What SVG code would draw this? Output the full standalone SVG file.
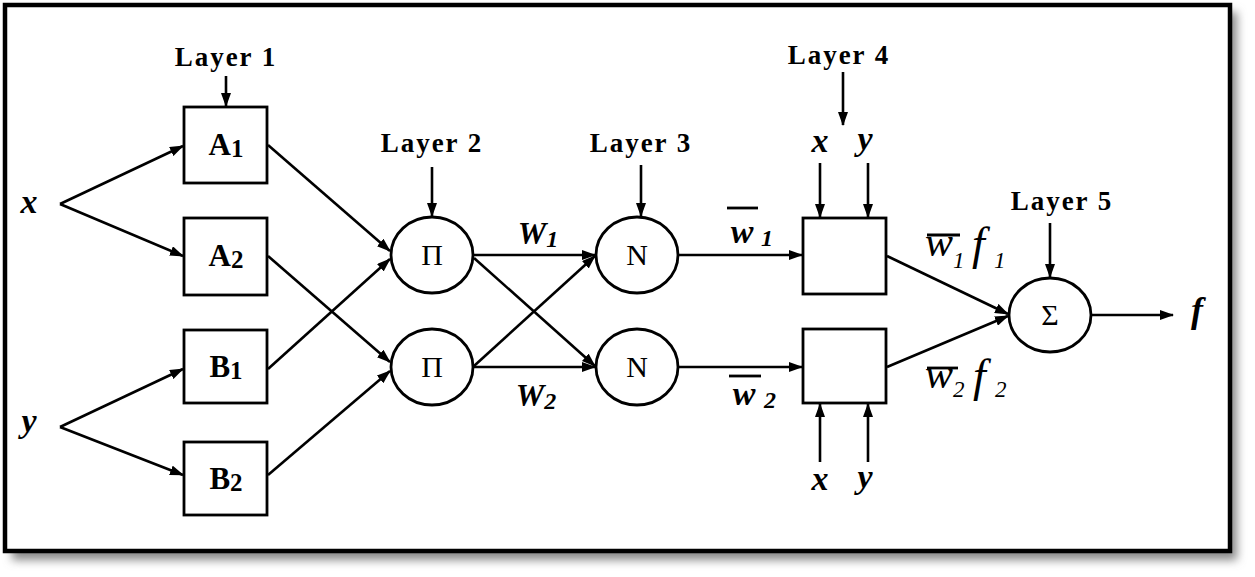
<svg xmlns="http://www.w3.org/2000/svg" width="1255" height="577" viewBox="0 0 1255 577">
<defs>
<marker id="ah" viewBox="0 0 14 10" refX="13" refY="5" markerWidth="14" markerHeight="10" markerUnits="userSpaceOnUse" orient="auto">
<path d="M0,0 L14,5 L0,10 z" fill="#000"/>
</marker>
<filter id="sh" x="-5%" y="-5%" width="110%" height="115%"><feGaussianBlur stdDeviation="5"/></filter>
<style>
.n{fill:#fff;stroke:#000;stroke-width:2.8}
.c line{stroke:#000;stroke-width:2.6;marker-end:url(#ah)}
.lay{font-family:"Liberation Serif",serif;font-weight:bold;font-size:27px;letter-spacing:2px;text-anchor:middle;fill:#000}
.lb{font-family:"Liberation Serif",serif;font-weight:bold;text-anchor:middle;fill:#000}
.op{font-family:"Liberation Serif",serif;text-anchor:middle;fill:#000}
.v{font-family:"Liberation Serif",serif;font-weight:bold;font-style:italic;text-anchor:middle;fill:#000}
.w{font-family:"Liberation Serif",serif;font-style:italic;fill:#000}
.ol{stroke:#000;stroke-width:2.8}
</style>
</defs>
<rect width="1255" height="577" fill="#fff"/>
<rect x="12" y="12" width="1225" height="548" fill="#888" filter="url(#sh)"/>
<rect x="5" y="5" width="1225" height="546" fill="#fff" stroke="#000" stroke-width="4.5"/>

<g id="labels">
<text class="lay" x="226" y="66">Layer 1</text>
<text class="lay" x="432" y="152">Layer 2</text>
<text class="lay" x="641" y="152">Layer 3</text>
<text class="lay" x="839" y="64">Layer 4</text>
<text class="lay" x="1062" y="210">Layer 5</text>
<text class="v" font-size="34" x="29" y="213">x</text>
<text class="v" font-size="34" x="29" y="432">y</text>
<text class="v" font-size="34" x="820" y="152">x</text>
<text class="v" font-size="34" x="865" y="150">y</text>
<text class="v" font-size="34" x="820" y="490">x</text>
<text class="v" font-size="34" x="865" y="488">y</text>
<text class="v" font-size="36" x="1197" y="322">f</text>
<text class="v" x="538" y="244" font-size="32">W<tspan font-size="24" dy="3">1</tspan></text>
<text class="v" x="536" y="406" font-size="32">W<tspan font-size="24" dy="3">2</tspan></text>
<text class="v" x="742" y="243" font-size="34">w</text><text class="v" x="767" y="246" font-size="24">1</text>
<line class="ol" x1="727" y1="208" x2="758" y2="208"/>
<text class="v" x="744" y="405" font-size="34">w</text><text class="v" x="770" y="408" font-size="24">2</text>
<line class="ol" x1="729" y1="376" x2="761" y2="376"/>
<text class="w" font-size="42" x="925" y="256">w</text><text class="w" font-size="23" x="953" y="268">1</text><text class="w" font-size="46" x="972" y="259">f</text><text class="w" font-size="23" x="994" y="268">1</text>
<line class="ol" x1="927" y1="235" x2="960" y2="235"/>
<text class="w" font-size="42" x="925" y="388">w</text><text class="w" font-size="23" x="953" y="397">2</text><text class="w" font-size="46" x="973" y="391">f</text><text class="w" font-size="23" x="995" y="397">2</text>
<line class="ol" x1="927" y1="368" x2="958" y2="368"/>
</g>

<g id="A1"><rect class="n" x="184" y="107" width="83" height="76"/><text class="lb" font-size="31" x="226" y="155">A<tspan font-size="25" dy="2">1</tspan></text></g>
<g id="A2"><rect class="n" x="184" y="218" width="83" height="77"/><text class="lb" font-size="31" x="226" y="266">A<tspan font-size="25" dy="2">2</tspan></text></g>
<g id="B1"><rect class="n" x="184" y="330" width="83" height="73"/><text class="lb" font-size="31" x="226" y="377">B<tspan font-size="25" dy="2">1</tspan></text></g>
<g id="B2"><rect class="n" x="184" y="442" width="83" height="73"/><text class="lb" font-size="31" x="226" y="489">B<tspan font-size="25" dy="2">2</tspan></text></g>
<g id="P1"><ellipse class="n" cx="432" cy="255" rx="41" ry="38"/><text class="op" font-size="30" x="432" y="265">Π</text></g>
<g id="P2"><ellipse class="n" cx="432" cy="367" rx="41" ry="38"/><text class="op" font-size="30" x="432" y="377">Π</text></g>
<g id="N1"><ellipse class="n" cx="637" cy="255" rx="41" ry="38"/><text class="op" font-size="30" x="637" y="265">N</text></g>
<g id="N2"><ellipse class="n" cx="637" cy="367" rx="41" ry="38"/><text class="op" font-size="30" x="637" y="377">N</text></g>
<g id="L4a"><rect class="n" x="803" y="218" width="83" height="76"/></g>
<g id="L4b"><rect class="n" x="803" y="329" width="83" height="74"/></g>
<g id="S"><ellipse class="n" cx="1050" cy="315" rx="41" ry="37"/><text class="op" font-size="30" x="1050" y="325">Σ</text></g>

<g id="connectors" class="c">
<line x1="226" y1="76" x2="226" y2="106"/>
<line x1="432" y1="167" x2="432" y2="216"/>
<line x1="641" y1="165" x2="641" y2="216"/>
<line x1="843" y1="72" x2="843" y2="125"/>
<line x1="1050" y1="223" x2="1050" y2="277"/>
<line x1="820" y1="163" x2="820" y2="217"/>
<line x1="868" y1="163" x2="868" y2="217"/>
<line x1="820" y1="462" x2="820" y2="404"/>
<line x1="868" y1="462" x2="868" y2="404"/>
<line x1="60" y1="204" x2="183" y2="146"/>
<line x1="60" y1="204" x2="183" y2="256"/>
<line x1="60" y1="427" x2="183" y2="369"/>
<line x1="60" y1="427" x2="183" y2="475"/>
<line x1="268" y1="145" x2="390" y2="251"/>
<line x1="268" y1="256" x2="390" y2="362"/>
<line x1="268" y1="369" x2="390" y2="259"/>
<line x1="268" y1="475" x2="390" y2="371"/>
<line x1="474" y1="255" x2="595" y2="255"/>
<line x1="474" y1="258" x2="595" y2="366"/>
<line x1="474" y1="366" x2="595" y2="256"/>
<line x1="474" y1="367" x2="595" y2="367"/>
<line x1="679" y1="255" x2="802" y2="255"/>
<line x1="679" y1="367" x2="802" y2="367"/>
<line x1="887" y1="256" x2="1008" y2="314"/>
<line x1="887" y1="367" x2="1008" y2="316"/>
<line x1="1092" y1="315" x2="1173" y2="315"/>
</g>
</svg>
